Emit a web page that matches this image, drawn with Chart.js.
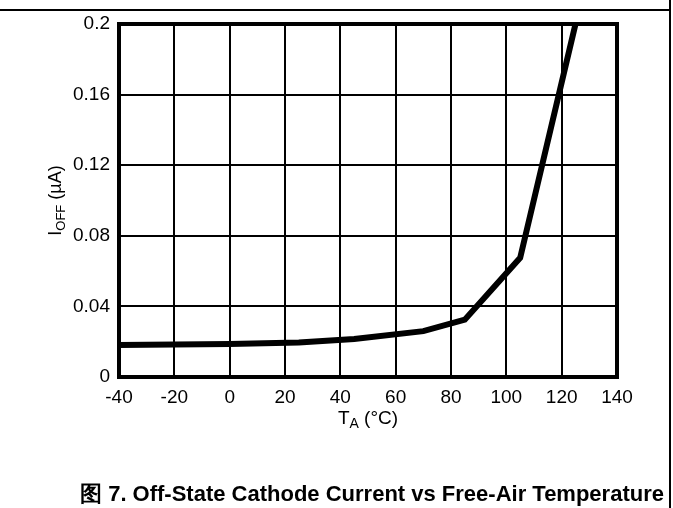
<!DOCTYPE html>
<html>
<head>
<meta charset="utf-8">
<script src="https://cdn.jsdelivr.net/npm/chart.js@4/dist/chart.umd.min.js"></script>
<style>
  html, body { margin: 0; padding: 0; background: #fff; }
  #wrap { width: 673px; height: 508px; position: relative; }
</style>
</head>
<body>
<div id="wrap"><canvas id="chart" width="673" height="508"></canvas></div>
<script>
// temperatura (°C) y corriente de apagado (µA)
const temps = [-40, 0, 25, 45, 70, 85, 105, 125];
const ioff = [0.0182, 0.0187, 0.0195, 0.0215, 0.026, 0.0325, 0.0675, 0.2];
const xTicks = [-40, -20, 0, 20, 40, 60, 80, 100, 120, 140];
const yTicks = [0, 0.04, 0.08, 0.12, 0.16, 0.2];
const titulo = '图 7. Off-State Cathode Current vs Free-Air Temperature';

const FONT = 'Liberation Sans, Arial, sans-serif';

// texto con subindice: [texto, tamaño, desplazamiento]
function textoCompuesto(ctx, partes, cx, y) {
  let w = 0;
  partes.forEach(p => { ctx.font = p[1] + 'px ' + FONT; w += ctx.measureText(p[0]).width; });
  let x = cx - w / 2;
  partes.forEach(p => {
    ctx.font = p[1] + 'px ' + FONT;
    ctx.fillText(p[0], x, y + p[2]);
    x += ctx.measureText(p[0]).width;
  });
}

// marco, titulos de ejes y pie de figura
const extras = {
  id: 'extras',
  afterDraw(chart) {
    const { ctx, chartArea: a } = chart;
    ctx.save();
    ctx.strokeStyle = '#000';
    ctx.lineWidth = 4;
    ctx.strokeRect(a.left, a.top, a.right - a.left, a.bottom - a.top);

    ctx.lineWidth = 2;
    ctx.beginPath();
    ctx.moveTo(0, 10);
    ctx.lineTo(671, 10);
    ctx.moveTo(670, 0);
    ctx.lineTo(670, 508);
    ctx.stroke();

    ctx.fillStyle = '#000';
    ctx.textBaseline = 'alphabetic';

    textoCompuesto(ctx, [['T', 19, 0], ['A', 14, 4], [' (°C)', 19, 0]], (a.left + a.right) / 2, 424);

    ctx.translate(61, (a.top + a.bottom) / 2);
    ctx.rotate(-Math.PI / 2);
    textoCompuesto(ctx, [['I', 18, 0], ['OFF', 13, 4], [' (µA)', 18, 0]], 0, 0);
    ctx.restore();

    ctx.save();
    ctx.fillStyle = '#000';
    ctx.font = 'bold 22px ' + FONT;
    ctx.textAlign = 'center';
    ctx.textBaseline = 'middle';
    ctx.fillText(titulo, 372, 495);
    ctx.restore();
  }
};

new Chart(document.getElementById('chart'), {
  type: 'line',
  data: {
    datasets: [{
      data: temps.map((t, i) => ({ x: t, y: ioff[i] })),
      borderColor: '#000',
      borderWidth: 6,
      pointRadius: 0,
      tension: 0,
      fill: false,
    }],
  },
  options: {
    responsive: false,
    animation: false,
    events: [],
    layout: { padding: { left: 0, right: 56, top: 24, bottom: 0 } },
    plugins: { legend: { display: false }, tooltip: { enabled: false } },
    scales: {
      x: {
        type: 'linear',
        min: -40,
        max: 140,
        afterBuildTicks: (s) => { s.ticks = xTicks.map(v => ({ value: v })); },
        afterFit: (s) => { s.height = 131; },
        grid: { color: '#000', lineWidth: 2, drawTicks: false },
        border: { display: false },
        ticks: { color: '#000', font: { family: FONT, size: 19 }, padding: 9, maxRotation: 0 },
      },
      y: {
        min: 0,
        max: 0.2,
        afterBuildTicks: (s) => { s.ticks = yTicks.map(v => ({ value: v })); },
        afterFit: (s) => { s.width = 119; },
        grid: { color: '#000', lineWidth: 2, drawTicks: false },
        border: { display: false },
        ticks: {
          color: '#000',
          font: { family: FONT, size: 19 },
          padding: 9,
          callback: (v) => String(Math.round(v * 100) / 100),
        },
      },
    },
  },
  plugins: [extras],
});
</script>
</body>
</html>
